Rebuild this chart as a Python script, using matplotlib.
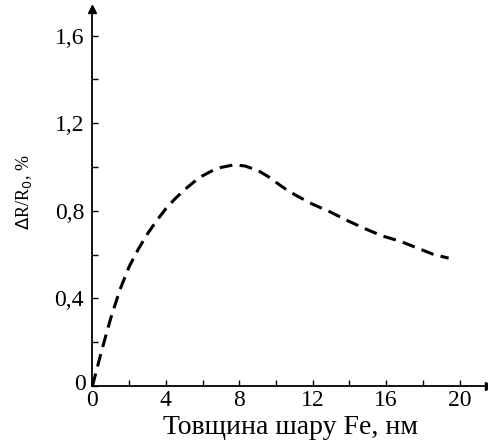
import numpy as np
import matplotlib.pyplot as plt
from matplotlib.ticker import MultipleLocator

plt.rcParams['font.family'] = ['Liberation Serif', 'DejaVu Serif']

# values
thickness = [0.0, 0.5, 1.0, 1.5, 2.0, 2.5, 3.0, 3.5, 4.0, 4.5, 5.0, 5.5,
             6.0, 6.5, 7.0, 7.7, 8.3, 9.0, 9.6, 10.2, 10.6, 11.1, 12.0,
             12.95, 13.9, 14.8, 15.8, 16.8, 17.7, 18.6, 19.4]
dR = [0.0, 0.16, 0.31, 0.44, 0.545, 0.625, 0.695, 0.755, 0.81, 0.855, 0.895,
      0.93, 0.96, 0.982, 0.998, 1.01, 1.005, 0.985, 0.955, 0.918, 0.895, 0.87,
      0.83, 0.795, 0.755, 0.72, 0.685, 0.66, 0.63, 0.60, 0.584]

xticks = [0, 4, 8, 12, 16, 20]
xlabels = ['0', '4', '8', '12', '16', '20']
yticks = [0.4, 0.8, 1.2, 1.6]
ylabels = ['0,4', '0,8', '1,2', '1,6']

fig = plt.figure(figsize=(4.89, 4.47), dpi=100)
ax = fig.add_axes([0.189, 0.1365, 0.811, 0.8425])

ax.plot(thickness, dR, color='black', lw=2.2, dashes=(4.2, 2.4),
        dash_capstyle='butt', clip_on=False)

ax.set_xlim(0, 21.6)
ax.set_ylim(0, 1.72)
ax.spines['top'].set_visible(False)
ax.spines['right'].set_visible(False)
for s in ('left', 'bottom'):
    ax.spines[s].set_linewidth(1.3)

ax.set_xticks(xticks)
ax.set_xticklabels(xlabels)
ax.set_yticks(yticks)
ax.set_yticklabels(ylabels)
ax.xaxis.set_minor_locator(MultipleLocator(2))
ax.yaxis.set_minor_locator(MultipleLocator(0.2))
ax.tick_params(which='both', direction='in', length=4, width=1, labelsize=17)
ax.tick_params(axis='x', pad=3)
ax.tick_params(axis='y', pad=6)

# the origin "0" of the y axis sits apart in the reference
fig.text(0.163, 0.14, '0', fontsize=17, ha='center', va='center')

# arrows at the axis ends
ax.plot(1, 0, '>k', ms=6, transform=ax.transAxes, clip_on=False)
ax.plot(0, 1, '^k', ms=6, transform=ax.transAxes, clip_on=False)

ax.set_xlabel('Товщина шару Fe, нм', fontsize=20, labelpad=3)
fig.text(0.05, 0.57, r'$\Delta$R/R$_0$, %', rotation=90, fontsize=13,
         ha='center', va='center')

fig.savefig('out.png', dpi=100)
